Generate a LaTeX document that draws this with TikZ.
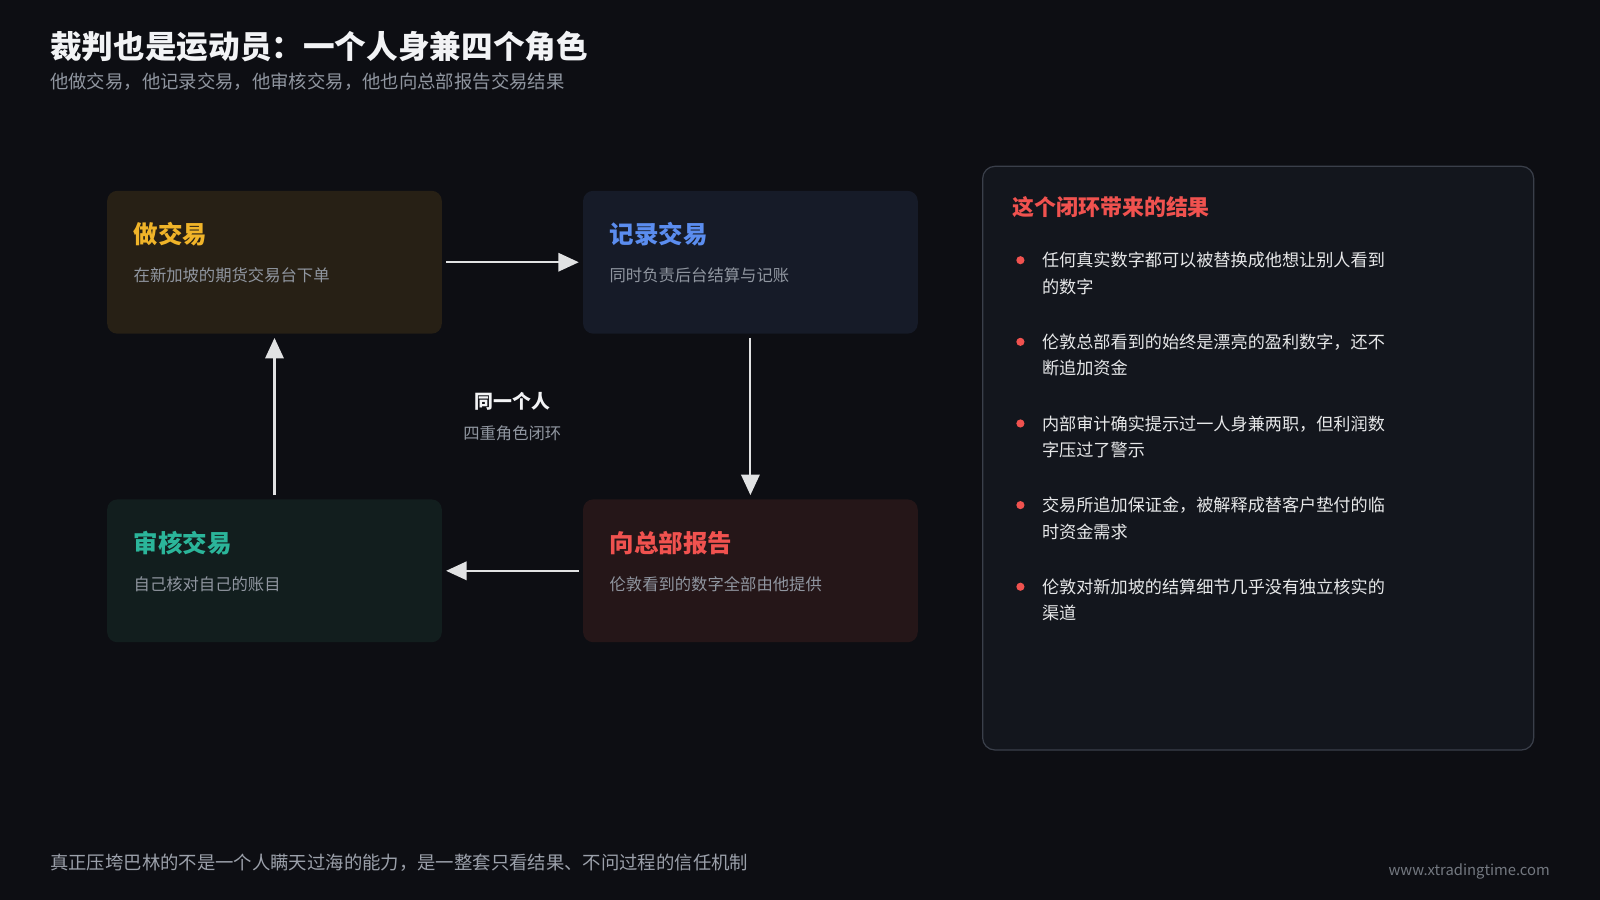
\documentclass[tikz,border=0pt]{standalone}
\usepackage{fontspec}
\setmainfont{Noto Sans CJK SC}
\usepackage{xcolor}
\definecolor{bgDark}{HTML}{0D0E13}
\definecolor{txtGray}{HTML}{9096A0}
\definecolor{txtWhite}{HTML}{F2F3F5}
\definecolor{accYellow}{HTML}{F0B429}
\definecolor{accBlue}{HTML}{5B8DEF}
\definecolor{accTeal}{HTML}{2BB59A}
\definecolor{accRed}{HTML}{F0524F}
\definecolor{fillYellow}{HTML}{272015}
\definecolor{fillBlue}{HTML}{161B28}
\definecolor{fillTeal}{HTML}{121E1E}
\definecolor{fillRed}{HTML}{251618}
\definecolor{panelFill}{HTML}{13161D}
\definecolor{panelBorder}{HTML}{3A3F4A}
\usetikzlibrary{arrows.meta,positioning,calc}
\tikzset{
    role/.style={
        rectangle,
        rounded corners=10pt,
        minimum width=328pt,
        minimum height=140pt,
        inner sep=0pt
    },
    roletitle/.style={
        anchor=west,
        font=\fontsize{24}{26}\selectfont\bfseries,
        inner sep=0pt
    },
    roletext/.style={
        anchor=west,
        font=\fontsize{16}{18}\selectfont,
        text=txtGray,
        inner sep=0pt
    },
    flow/.style={
        -{Triangle[length=20pt,width=18pt]},
        line width=2pt,
        color=txtWhite!85!gray
    },
    point/.style={
        anchor=north west,
        align=left,
        font=\fontsize{16.8}{26}\selectfont,
        text=txtWhite!90!gray,
        inner sep=0pt
    },
    dot/.style={
        circle,
        fill=accRed,
        minimum size=8pt,
        inner sep=0pt
    }
}
\begin{document}
\begin{tikzpicture}[x=1pt,y=-1pt]
    % Background
    \fill[bgDark] (0,0) rectangle (1568,882);
    \useasboundingbox (0,0) rectangle (1568,882);

    % Heading
    \node[anchor=west, inner sep=0pt, text=txtWhite, font=\fontsize{31}{34}\selectfont\bfseries]
        (title) at (49,46) {裁判也是运动员：一个人身兼四个角色};
    \node[anchor=west, inner sep=0pt, text=txtGray, font=\fontsize{18}{20}\selectfont]
        (subtitle) at (49,80) {他做交易，他记录交易，他审核交易，他也向总部报告交易结果};

    % Four roles
    \node[role, fill=fillYellow] (trade) at (269,257) {};
    \node[role, fill=fillBlue, right=138pt of trade] (record) {};
    \node[role, fill=fillTeal, below=162pt of trade] (audit) {};
    \node[role, fill=fillRed, right=138pt of audit] (report) {};

    \node[roletitle, text=accYellow] at ($(trade.north west)+(26,43)$) {做交易};
    \node[roletext] at ($(trade.north west)+(26,83)$) {在新加坡的期货交易台下单};
    \node[roletitle, text=accBlue] at ($(record.north west)+(26,43)$) {记录交易};
    \node[roletext] at ($(record.north west)+(26,83)$) {同时负责后台结算与记账};
    \node[roletitle, text=accTeal] at ($(audit.north west)+(26,43)$) {审核交易};
    \node[roletext] at ($(audit.north west)+(26,83)$) {自己核对自己的账目};
    \node[roletitle, text=accRed] at ($(report.north west)+(26,43)$) {向总部报告};
    \node[roletext] at ($(report.north west)+(26,83)$) {伦敦看到的数字全部由他提供};

    % Loop
    \draw[flow, shorten <=4pt, shorten >=4pt] (trade) -- (record);
    \draw[flow, shorten <=4pt, shorten >=4pt] (record) -- (report);
    \draw[flow, shorten <=4pt, shorten >=4pt] (report) -- (audit);
    \draw[flow, shorten <=4pt, shorten >=4pt] (audit) -- (trade);

    \node[inner sep=0pt, text=txtWhite, font=\fontsize{18.5}{20}\selectfont\bfseries]
        (same) at (502,393) {同一个人};
    \node[inner sep=0pt, text=txtGray, font=\fontsize{16}{18}\selectfont, below=32pt of same.center, anchor=center]
        (loop) {四重角色闭环};

    % Result panel
    \draw[panelBorder, fill=panelFill, line width=1.2pt, rounded corners=12pt]
        (963,163) rectangle (1503,735);
    \node[anchor=west, inner sep=0pt, text=accRed, font=\fontsize{21.5}{24}\selectfont\bfseries]
        (result) at (992,203) {这个闭环带来的结果};

    \foreach \y/\txt in {
        243/{任何真实数字都可以被替换成他想让别人看到\\的数字},
        323/{伦敦总部看到的始终是漂亮的盈利数字，还不\\断追加资金},
        403/{内部审计确实提示过一人身兼两职，但利润数\\字压过了警示},
        483/{交易所追加保证金，被解释成替客户垫付的临\\时资金需求},
        563/{伦敦对新加坡的结算细节几乎没有独立核实的\\渠道}} {
        \node[dot] at (1000,\y+12) {};
        \node[point] at (1021,\y+4) {\txt};
    }

    % Footer
    \node[anchor=west, inner sep=0pt, text=txtGray!90!white, font=\fontsize{18}{20}\selectfont]
        (footer) at (49,845) {真正压垮巴林的不是一个人瞒天过海的能力，是一整套只看结果、不问过程的信任机制};
    \node[anchor=east, inner sep=0pt, text=txtGray!80!black, font=\fontsize{14.5}{16}\selectfont]
        (site) at (1519,854) {www.xtradingtime.com};
\end{tikzpicture}
\end{document}
